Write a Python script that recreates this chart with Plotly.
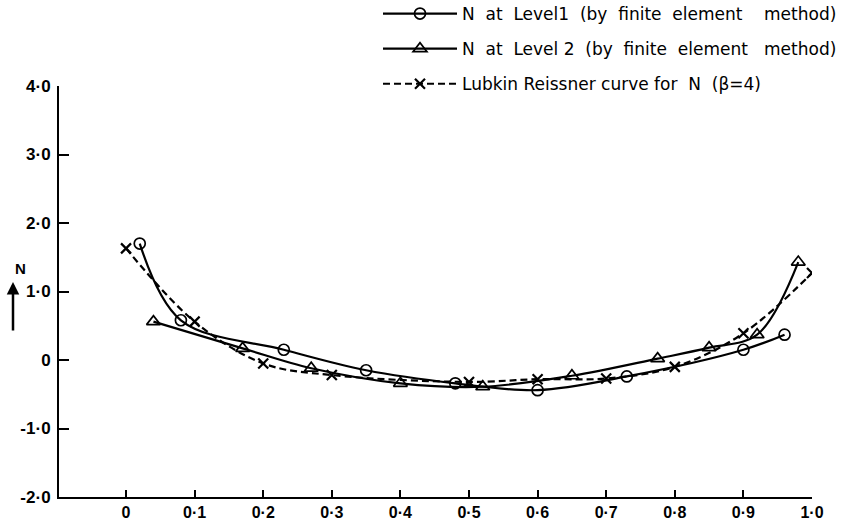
import plotly.graph_objects as go

# Level 1 (circles)
l1_x = [0.02, 0.08, 0.23, 0.35, 0.48, 0.60, 0.73, 0.90, 0.96]
l1_y = [1.70, 0.58, 0.15, -0.15, -0.34, -0.44, -0.24, 0.15, 0.37]
# Level 2 (triangles)
l2_x = [0.04, 0.17, 0.27, 0.40, 0.52, 0.65, 0.775, 0.85, 0.92, 0.98]
l2_y = [0.56, 0.17, -0.12, -0.34, -0.39, -0.23, 0.02, 0.18, 0.37, 1.43]
# Lubkin Reissner curve
lr_x = [0.0, 0.10, 0.20, 0.30, 0.50, 0.60, 0.70, 0.80, 0.90, 1.0]
lr_y = [1.63, 0.56, -0.05, -0.22, -0.32, -0.28, -0.27, -0.10, 0.39, 1.27]

x_ticks = [0, 0.1, 0.2, 0.3, 0.4, 0.5, 0.6, 0.7, 0.8, 0.9, 1.0]
x_tick_labels = ["0", "0·1", "0·2", "0·3", "0·4", "0·5", "0·6", "0·7", "0·8", "0·9", "1·0"]
y_ticks = [-2, -1, 0, 1, 2, 3, 4]
y_tick_labels = ["-2·0", "-1·0", "0", "1·0", "2·0", "3·0", "4·0"]

names = ["N  at  Level1  (by  finite  element    method)",
         "N  at  Level 2  (by  finite  element   method)",
         "Lubkin Reissner curve for  N  (β=4)"]

fig = go.Figure()
fig.add_trace(go.Scatter(x=l1_x, y=l1_y, mode="lines+markers", name=names[0],
                         line=dict(color="black", width=2.2, shape="spline"),
                         marker=dict(symbol="circle-open", size=11, color="black",
                                     line=dict(width=1.7)),
                         legendgroup="a"))
fig.add_trace(go.Scatter(x=l2_x, y=l2_y, mode="lines+markers", name=names[1],
                         line=dict(color="black", width=2.2, shape="spline"),
                         marker=dict(symbol="triangle-up-open", size=12, color="black",
                                     line=dict(width=1.7)),
                         legendgroup="b"))
fig.add_trace(go.Scatter(x=lr_x, y=lr_y, mode="lines+markers", name=names[2],
                         line=dict(color="black", width=2.2, shape="spline", dash="7px,4px"),
                         marker=dict(symbol="x-thin-open", size=10, color="black",
                                     line=dict(width=2.2, color="black")),
                         legendgroup="c"))

L, R, T, B = 59, 44, 86, 28
W, H = 856, 525
pw, ph = W - L - R, H - T - B

def px(xp):
    return (xp - L) / pw

def py(yp):
    return (H - B - yp) / ph

font_family = "Liberation Sans"

fig.update_layout(
    width=W, height=H,
    margin=dict(l=L, r=R, t=T, b=B, pad=0, autoexpand=False),
    paper_bgcolor="white", plot_bgcolor="white",
    showlegend=True,
    legend=dict(x=px(378), y=py(-4), xanchor="left", yanchor="top",
                font=dict(family="DejaVu Sans", size=17, color="black"),
                itemwidth=74, tracegroupgap=10, bgcolor="rgba(0,0,0,0)"),
    xaxis=dict(range=[-0.0977, 1.0], tickvals=x_ticks, ticktext=x_tick_labels,
               showgrid=False, zeroline=False, showline=True, linecolor="black",
               linewidth=2, ticks="inside", ticklen=7, tickwidth=1.5, tickcolor="black",
               automargin=False,
               tickfont=dict(family=font_family, size=16, color="black", weight="bold")),
    yaxis=dict(range=[-2, 4], tickvals=y_ticks, ticktext=y_tick_labels,
               showgrid=False, zeroline=False, showline=True, linecolor="black",
               linewidth=2, ticks="inside", ticklen=10, tickwidth=1.5, tickcolor="black",
               automargin=False,
               tickfont=dict(family=font_family, size=17, color="black", weight="bold"),
               ticklabelstandoff=3),
)

fig.add_annotation(x=px(13), y=py(268), xref="paper", yref="paper", text="<b>N</b>",
                   showarrow=False, font=dict(family=font_family, size=15, color="black"))
fig.add_annotation(x=px(13), y=py(282), xref="paper", yref="paper", text="",
                   showarrow=True, ax=0, ay=50, arrowhead=2, arrowsize=1, arrowwidth=2.5,
                   arrowcolor="black")

fig.write_html("out.html")
